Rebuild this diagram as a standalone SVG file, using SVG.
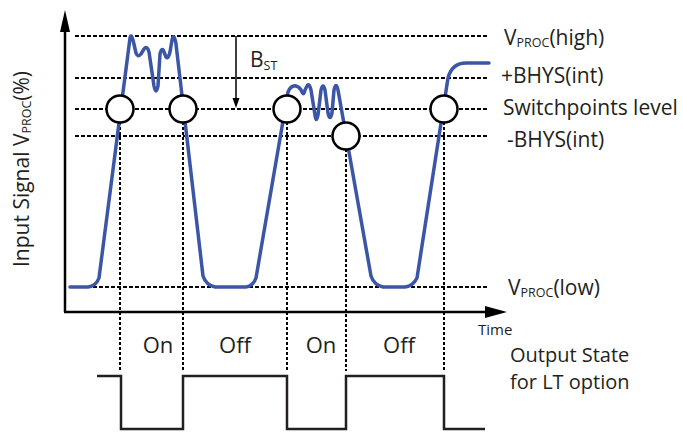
<svg xmlns="http://www.w3.org/2000/svg" width="683" height="432" viewBox="0 0 683 432">
<defs>
<style>
.t{font-family:"Open Sans","Noto Sans","Liberation Sans",sans-serif;fill:#231f20;font-size:21px}
.s{font-size:12.5px}
.lvl{stroke:#000;stroke-width:2;stroke-dasharray:4 2;fill:none}
.vd{stroke:#000;stroke-width:2;stroke-dasharray:3 2;fill:none}
.ax{stroke:#000;stroke-width:2.5;fill:none}
.sp{fill:#fff;stroke:#000;stroke-width:2.5}
.sig{fill:none;stroke:#3c56a6;stroke-width:3.5;stroke-linejoin:round;stroke-linecap:round}
</style>
</defs>
<rect width="683" height="432" fill="#fff"/>
<g id="axes">
<line class="ax" x1="65" y1="312" x2="65" y2="30"/>
<polygon points="65,10 60,32 70,32" fill="#000"/>
<line class="ax" x1="64" y1="312" x2="487" y2="312"/>
<polygon points="507,312 485,306 485,318" fill="#000"/>
<text class="t" x="478" y="335" style="font-size:15px">Time</text>
<text class="t" transform="translate(29,169) rotate(-90)" text-anchor="middle">Input Signal V<tspan class="s" dy="2">PROC</tspan><tspan dy="-2">(%)</tspan></text>
</g>
<g id="levels">
<line class="lvl" x1="75" y1="36" x2="488" y2="36"/>
<line class="lvl" x1="75" y1="78" x2="488" y2="78"/>
<line class="lvl" x1="75" y1="109" x2="488" y2="109"/>
<line class="lvl" x1="75" y1="136" x2="488" y2="136"/>
<line class="lvl" x1="75" y1="287" x2="488" y2="287"/>
<text class="t" x="504" y="45">V<tspan class="s" dy="2">PROC</tspan><tspan dy="-2">(high)</tspan></text>
<text class="t" x="501" y="83">+BHYS(int)</text>
<text class="t" x="503" y="115">Switchpoints level</text>
<text class="t" x="507" y="147">-BHYS(int)</text>
<text class="t" x="508" y="295">V<tspan class="s" dy="2">PROC</tspan><tspan dy="-2">(low)</tspan></text>
</g>
<g id="bst">
<line x1="236" y1="36" x2="236" y2="100" stroke="#000" stroke-width="1.5"/>
<polygon points="236,108 232.5,98 239.5,98" fill="#000"/>
<text class="t" x="250" y="67">B<tspan class="s" dy="3">ST</tspan></text>
</g>
<g id="connectors">
<line class="vd" x1="120" y1="122" x2="120" y2="371"/>
<line class="vd" x1="183" y1="122" x2="183" y2="371"/>
<line class="vd" x1="287" y1="122" x2="287" y2="371"/>
<line class="vd" x1="346" y1="149" x2="346" y2="371"/>
<line class="vd" x1="444" y1="122" x2="444" y2="371"/>
</g>
<g id="signal">
<path class="sig" d="M70,287 L88,287 Q96,286 99,278 L130,38 Q131,33 133,40 L136,53 Q138,58 141,54 L144,49 Q147,45 149,52 L154,86 Q156,96 158,86 L160,54 Q162,46 164,52 L166,57 Q168,60 170,52 L172,40 Q174,32 176,44 L203,276 Q206,285 215,287 L246,287 Q253,286 256,278 L288,92 Q291,85 296,86 Q300,87 302,92 Q304,96 305,90 L307,86 Q309,82 311,90 L315,115 Q316,124 318,115 L321,90 Q323,82 325,90 L328,113 Q330,122 332,113 L334,90 Q336,81 338,90 L371,276 Q374,285 383,287 L405,287 Q413,286 417,278 L448,78 Q452,63 466,63 L489,63"/>
</g>
<g id="switchpoints">
<circle id="sp1" class="sp" cx="120" cy="109" r="13.5"/>
<circle id="sp2" class="sp" cx="183" cy="109" r="13.5"/>
<circle id="sp3" class="sp" cx="287" cy="109" r="13.5"/>
<circle id="sp4" class="sp" cx="346" cy="136" r="13.5"/>
<circle id="sp5" class="sp" cx="444" cy="109" r="13.5"/>
</g>
<g id="output">
<polyline points="97,376 121,376 121,429 183,429 183,376 287,376 287,429 346,429 346,376 444,376 444,429 485,429" fill="none" stroke="#231f20" stroke-width="2.5"/>
<text class="t" x="158" y="353" text-anchor="middle" style="font-size:22px">On</text>
<text class="t" x="235" y="353" text-anchor="middle" style="font-size:22px">Off</text>
<text class="t" x="321" y="353" text-anchor="middle" style="font-size:22px">On</text>
<text class="t" x="399" y="353" text-anchor="middle" style="font-size:22px">Off</text>
<text class="t" x="510" y="361.5" style="font-size:20px">Output State</text>
<text class="t" x="510" y="389" style="font-size:20px">for LT option</text>
</g>
</svg>
